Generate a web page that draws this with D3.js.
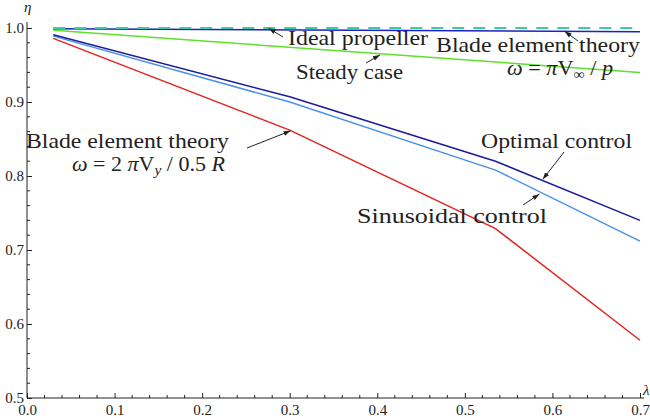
<!DOCTYPE html>
<html>
<head>
<meta charset="utf-8">
<script src="https://cdn.jsdelivr.net/npm/d3@7"></script>
</head>
<body style="margin:0;background:#fff">
<script>
// data
const lambdaLong = [0.03, 0.7];
const lambdaKnots = [0.03, 0.3, 0.535, 0.7];
const idealProp = [1.0, 1.0];
const bladeFree = [0.999, 0.995];
const steadyCase = [0.997, 0.94];
const optimalCtrl = [0.991, 0.907, 0.82, 0.74];
const sinusCtrl = [0.989, 0.90, 0.808, 0.712];
const bladeRadius = [0.986, 0.862, 0.729, 0.578];

const xTicks = [0, 0.1, 0.2, 0.3, 0.4, 0.5, 0.6, 0.7];
const yTicks = [0.5, 0.6, 0.7, 0.8, 0.9, 1.0];

const INK = "#222";

const width = 650, height = 418;
const svg = d3.select("body")
  .append("svg")
  .attr("width", width)
  .attr("height", height);

const xScale = d3.scaleLinear().domain([0, 0.7]).range([27, 640]);
const yScale = d3.scaleLinear().domain([0.5, 1.0]).range([398, 28]);

// minor ticks
const xMinor = d3.range(0, 0.701, 0.02).filter(v => Math.abs(v * 10 - Math.round(v * 10)) > 1e-6);
const yMinor = d3.range(0.5, 1.0061, 0.02).filter(v => Math.abs(v * 10 - Math.round(v * 10)) > 1e-6);

const xAxis = d3.axisBottom(xScale).tickValues(xTicks).tickSize(-5).tickPadding(6)
  .tickFormat(d3.format(".1f"));
const yAxis = d3.axisLeft(yScale).tickValues(yTicks).tickSize(-5).tickPadding(3)
  .tickFormat(d3.format(".1f"));

const gx = svg.append("g")
  .attr("transform", `translate(0,${yScale(0.5)})`)
  .call(xAxis);
gx.select(".domain").attr("d", `M${xScale(0)},0H${xScale(0.7) + 4}`);
gx.selectAll(".tick text").attr("font-size", 15);
gx.selectAll(".minor").data(xMinor).join("line")
  .attr("class", "minor")
  .attr("x1", d => xScale(d)).attr("x2", d => xScale(d))
  .attr("y1", 0).attr("y2", -3)
  .attr("stroke", INK);

const gy = svg.append("g")
  .attr("transform", `translate(${xScale(0)},0)`)
  .call(yAxis);
gy.select(".domain").attr("d", `M0,${yScale(0.5)}V${yScale(1.0) - 6}`);
gy.selectAll(".tick text").attr("font-size", 15);
gy.selectAll(".minor").data(yMinor).join("line")
  .attr("class", "minor")
  .attr("y1", d => yScale(d)).attr("y2", d => yScale(d))
  .attr("x1", 0).attr("x2", 3)
  .attr("stroke", INK);
svg.selectAll(".domain, .tick line").attr("stroke", INK);

// axis labels
svg.append("text").attr("x", 24).attr("y", 12)
  .attr("font-size", 15).attr("font-style", "italic").text("η");
svg.append("text").attr("x", 643).attr("y", 395)
  .attr("font-size", 15).attr("font-style", "italic").text("λ");

// curves
const line = d3.line().x(d => xScale(d[0])).y(d => yScale(d[1]));
const curves = [
  { xs: lambdaKnots, ys: bladeRadius, color: "#e3241f" },
  { xs: lambdaKnots, ys: sinusCtrl, color: "#4b92e6" },
  { xs: lambdaKnots, ys: optimalCtrl, color: "#1c1a9a" },
  { xs: lambdaLong, ys: steadyCase, color: "#5ee02c" },
  { xs: lambdaLong, ys: bladeFree, color: "#2020c0" },
  { xs: lambdaLong, ys: idealProp, color: "#3cc9ad", dash: "12,9" }
];
svg.selectAll(".curve").data(curves).join("path")
  .attr("class", "curve")
  .attr("fill", "none")
  .attr("stroke", d => d.color)
  .attr("stroke-width", d => d.dash ? 2 : 1.5)
  .attr("stroke-dasharray", d => d.dash || null)
  .attr("d", d => line(d.xs.map((x, i) => [x, d.ys[i]])));

// arrows
svg.append("defs").append("marker")
  .attr("id", "arr").attr("viewBox", "0 0 10 10")
  .attr("refX", 10).attr("refY", 5)
  .attr("markerWidth", 7).attr("markerHeight", 7)
  .attr("orient", "auto")
  .append("path").attr("d", "M0,1.5L10,5L0,8.5Z").attr("fill", INK);

// arrow: [fromX, fromY, toLambda, toEta]
const arrows = [
  [283, 37, 0.276, 0.9995],
  [578, 41, 0.614, 0.9955],
  [366, 63, 0.403, 0.9635],
  [247, 148, 0.301, 0.861],
  [564, 152, 0.589, 0.7955],
  [523, 205, 0.585, 0.7755]
];
svg.selectAll(".arrow").data(arrows).join("line")
  .attr("class", "arrow")
  .attr("x1", d => d[0]).attr("y1", d => d[1])
  .attr("x2", d => xScale(d[2])).attr("y2", d => yScale(d[3]))
  .attr("stroke", INK).attr("stroke-width", 1)
  .attr("marker-end", "url(#arr)");

// annotations (w = width measured on the reference)
const notes = [
  { x: 288, y: 45, w: 140, t: "Ideal propeller" },
  { x: 436, y: 52, w: 204, t: "Blade element theory" },
  { x: 296, y: 79, w: 107, t: "Steady case" },
  { x: 26, y: 148, w: 203, t: "Blade element theory" },
  { x: 481, y: 148, w: 151, t: "Optimal control" },
  { x: 357, y: 223, w: 190, t: "Sinusoidal control" }
];
svg.selectAll(".note").data(notes).join("text")
  .attr("class", "note")
  .attr("x", d => d.x).attr("y", d => d.y)
  .attr("font-size", 22)
  .attr("textLength", d => d.w)
  .attr("lengthAdjust", "spacingAndGlyphs")
  .text(d => d.t);

// formulas
const f1 = svg.append("text").attr("x", 507).attr("y", 75).attr("font-size", 20)
  .attr("textLength", 106).attr("lengthAdjust", "spacingAndGlyphs");
f1.append("tspan").attr("font-style", "italic").text("ω");
f1.append("tspan").text(" = ");
f1.append("tspan").attr("font-style", "italic").text("π");
f1.append("tspan").text("V");
f1.append("tspan").attr("font-size", 14).attr("dy", 4).text("∞");
f1.append("tspan").attr("dy", -4).text(" / ");
f1.append("tspan").attr("font-style", "italic").text("p");

const f2 = svg.append("text").attr("x", 72).attr("y", 171).attr("font-size", 20)
  .attr("textLength", 153).attr("lengthAdjust", "spacingAndGlyphs");
f2.append("tspan").attr("font-style", "italic").text("ω");
f2.append("tspan").text(" = 2 ");
f2.append("tspan").attr("font-style", "italic").text("π");
f2.append("tspan").text("V");
f2.append("tspan").attr("font-size", 14).attr("font-style", "italic").attr("dy", 4).text("y");
f2.append("tspan").attr("dy", -4).text(" / ");
f2.append("tspan").text("0.5 ");
f2.append("tspan").attr("font-style", "italic").text("R");

// serif face on every text, inline style so nothing overrides it
svg.selectAll("text, tspan").style("font-family", "'Liberation Serif'").attr("fill", INK);
</script>
</body>
</html>
